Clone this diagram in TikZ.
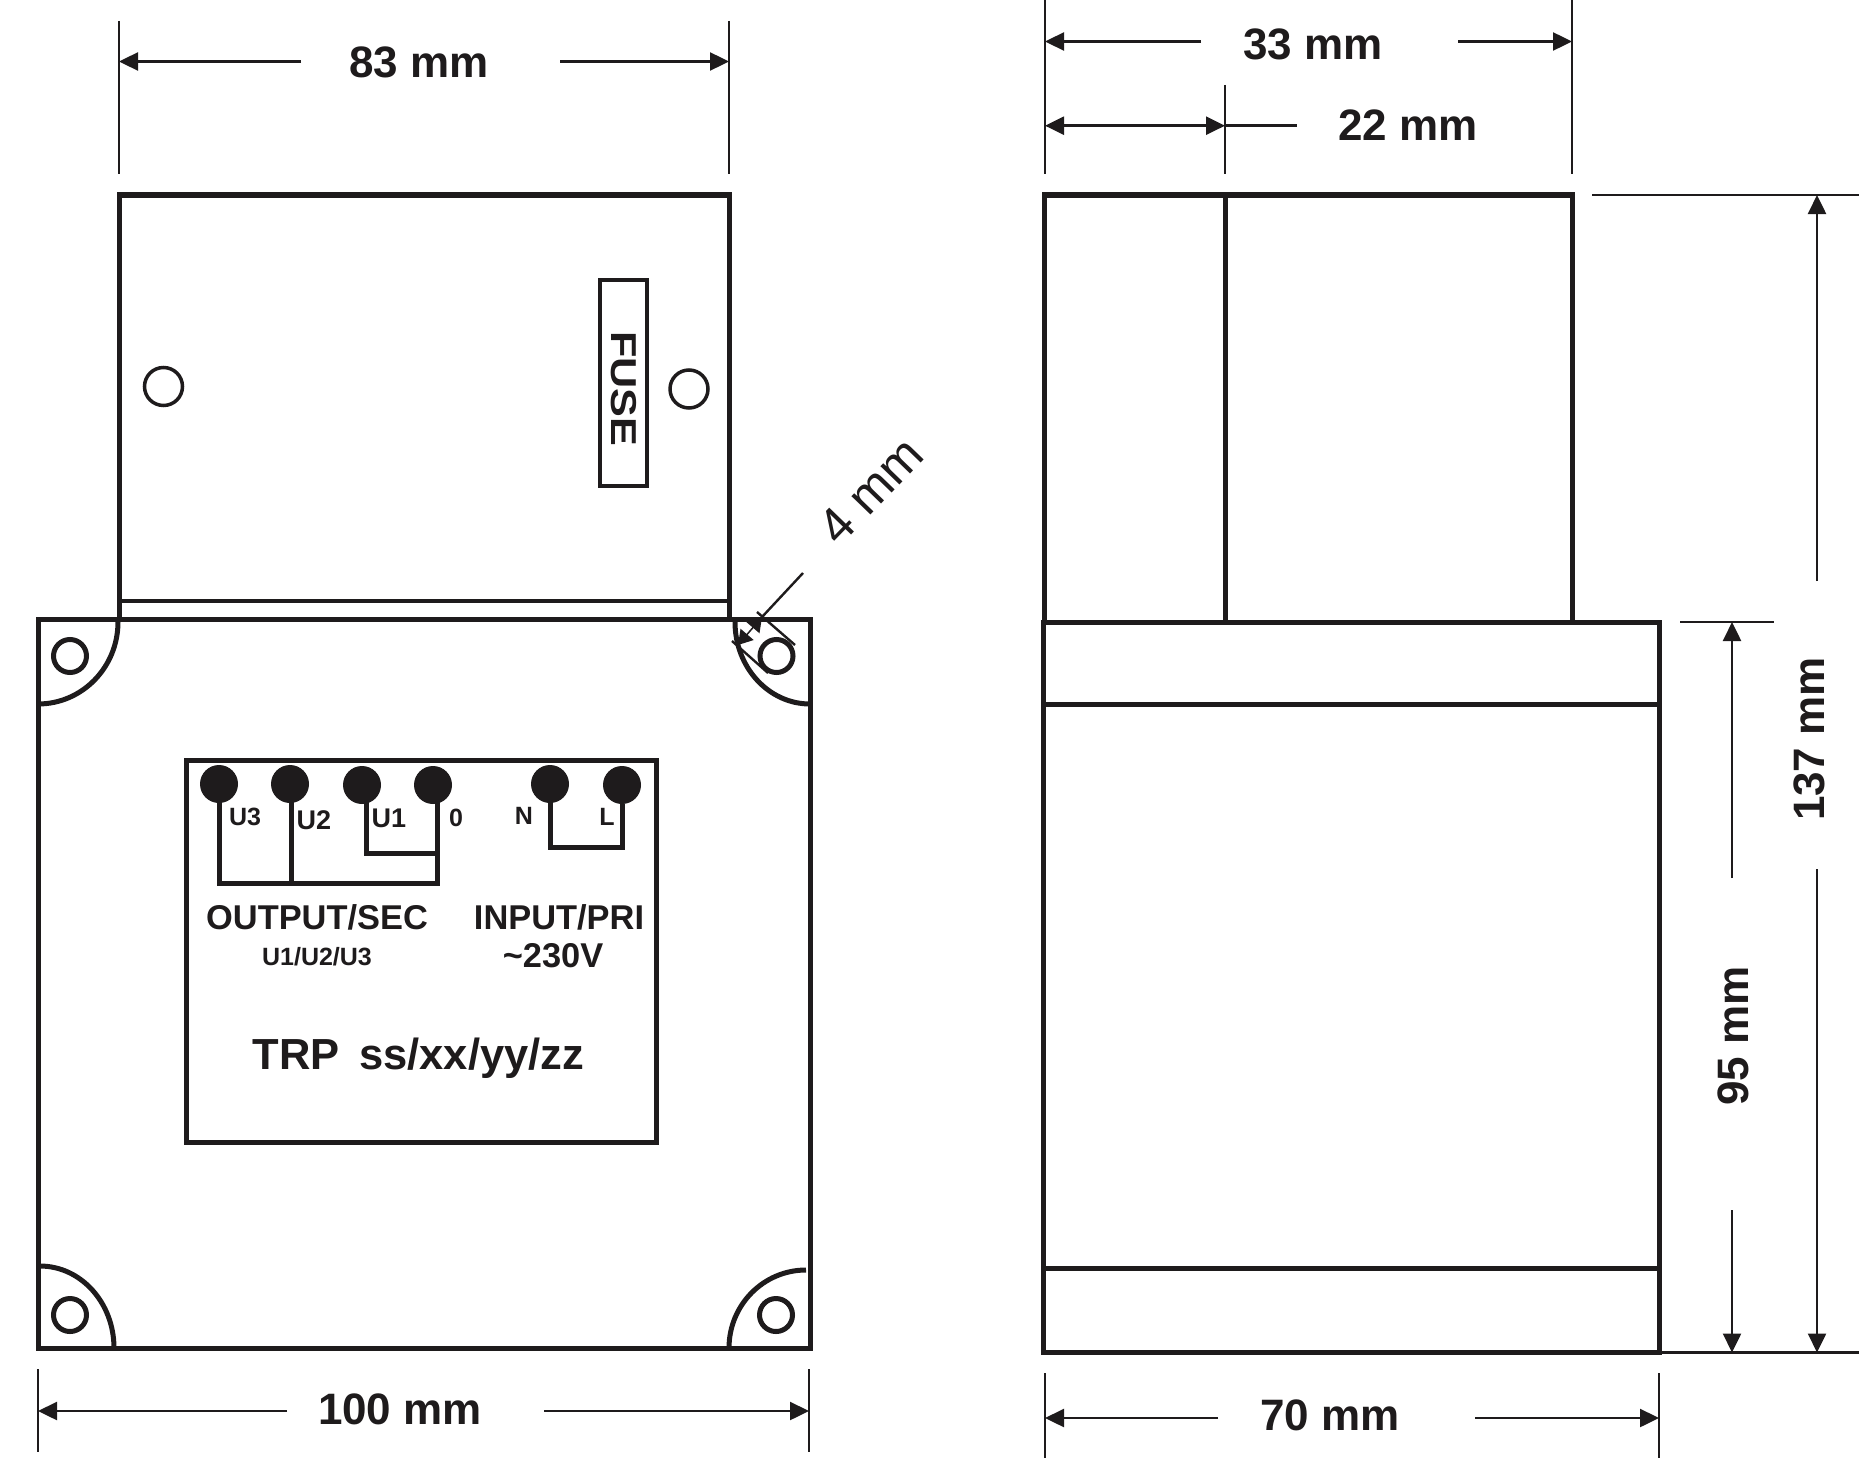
\documentclass[tikz,border=0pt]{standalone}
\usepackage{fontspec}
\setmainfont{Liberation Sans}
\usetikzlibrary{positioning,calc,arrows.meta}
\definecolor{ink}{HTML}{1E1B1C}
\tikzset{
    panel/.style={draw=ink, line width=5pt, inner sep=0pt, outer sep=0pt, anchor=north west},
    wire/.style={draw=ink, line width=5pt},
    hole/.style={circle, draw=ink, line width=5pt, inner sep=0pt, outer sep=0pt, minimum size=33pt},
    term/.style={circle, fill=ink, inner sep=0pt, outer sep=0pt, minimum size=38pt},
    witness/.style={draw=ink, line width=2.4pt},
    dimarrow/.style={draw=ink, line width=2.4pt, -{Triangle[length=19pt,width=18pt]}},
    dimtext/.style={text=ink, font=\bfseries\fontsize{44}{44}\selectfont, inner sep=0pt},
    termtext/.style={text=ink, font=\bfseries\fontsize{25}{25}\selectfont, inner sep=0pt},
    paneltext/.style={text=ink, font=\bfseries\fontsize{34.4}{34.4}\selectfont, inner sep=0pt}
}
\begin{document}
\begin{tikzpicture}[x=1pt,y=-1pt]
    \useasboundingbox (0,0) rectangle (1859,1458);

    \node[panel, minimum width=610pt, minimum height=424pt] (cover) at (119,195) {};
    \node[panel, minimum width=772pt, minimum height=729pt] (body) at (38,619) {};
    \draw[wire, line width=4pt] (119,601) -- (729,601);
    \node[panel, line width=3.5pt, minimum width=47pt, minimum height=206pt] (fuse) at (600,280) {};
    \node[text=ink, font=\bfseries\fontsize{36}{36}\selectfont, rotate=-90, inner sep=0pt] at ([yshift=-6pt]fuse.center) {\scalebox{1.2}[1]{FUSE}};
    \node[hole, line width=3.5pt, minimum size=38pt] (fixa) at (163.5,386.5) {};
    \node[hole, line width=3.5pt, minimum size=38pt] (fixb) at (689,389) {};

    \node[hole] (holea) at (70,656) {};
    \node[hole] (holeb) at (776.5,656) {};
    \node[hole] (holec) at (70,1315) {};
    \node[hole] (holed) at (776,1315) {};
    \draw[wire] (118,622) arc[start angle=0, end angle=-90, x radius=80pt, y radius=82pt];
    \draw[wire] (735,622) arc[start angle=180, end angle=270, x radius=75pt, y radius=82pt];
    \draw[wire] (114,1348) arc[start angle=0, end angle=90, x radius=74pt, y radius=82pt];
    \draw[wire] (729,1348) arc[start angle=180, end angle=90, x radius=77pt, y radius=78pt];

    \node[panel, minimum width=470pt, minimum height=382pt] (plate) at (186.5,760) {};
    \node[term] (u3) at (219,784) {};
    \node[term] (u2) at (290,784) {};
    \node[term] (u1) at (362,785) {};
    \node[term] (zero) at (433,785) {};
    \node[term] (n) at (550,784) {};
    \node[term] (l) at (622,785) {};
    \coordinate (busl) at (219.5,883);
    \coordinate (busr) at (437.5,883);
    \draw[wire] (u3.south) ++(0.5,-2) -- (busl) -- (busr) -- (437.5,785);
    \draw[wire] (291,784) -- (291,883);
    \draw[wire] (366,785) -- (366,853) -- (437.5,853);
    \draw[wire] (550,784) -- (550,847) -- (622,847) -- (l);

    \node[termtext] at (245,817) {U3};
    \node[termtext, font=\bfseries\fontsize{27}{27}\selectfont] at (314,820) {U2};
    \node[termtext, font=\bfseries\fontsize{27}{27}\selectfont] at (389,818) {U1};
    \node[termtext] at (456,818) {0};
    \node[termtext] at (524,816) {N};
    \node[termtext] at (607,817) {L};
    \node[paneltext] at (317,917) {OUTPUT/SEC};
    \node[paneltext] at (559,917) {INPUT/PRI};
    \node[paneltext, font=\bfseries\fontsize{25}{25}\selectfont] at (317,957) {U1/U2/U3};
    \node[paneltext] at (553,956) {\textasciitilde230V};
    \node[paneltext, font=\bfseries\fontsize{43.5}{43.5}\selectfont] at (418.5,1058) {TRP\, ss/xx/yy/zz};

    \node[dimtext] (dimwidth) at (419,62) {83 mm};
    \draw[witness] (119,21) -- (119,174);
    \draw[witness] (729,21) -- (729,174);
    \draw[dimarrow] (301,61.5) -- (119,61.5);
    \draw[dimarrow] (560,61.5) -- (729,61.5);

    \node[dimtext] (dimbody) at (400,1409) {100 mm};
    \draw[witness] (38,1369) -- (38,1452);
    \draw[witness] (809,1369) -- (809,1452);
    \draw[dimarrow] (287,1411) -- (38,1411);
    \draw[dimarrow] (544,1411) -- (809,1411);

    \node[panel, minimum width=528pt, minimum height=427pt] (upper) at (1044.5,195) {};
    \draw[wire] (1225,195) -- (1225,622);
    \node[panel, minimum width=616pt, minimum height=730pt] (lower) at (1043,622) {};
    \draw[wire] (1043,704) -- (1659,704);
    \draw[wire] (1043,1268) -- (1659,1268);

    \node[dimtext] (dimdepth) at (1313,44) {33 mm};
    \draw[witness] (1045,0) -- (1045,174);
    \draw[witness] (1572,0) -- (1572,174);
    \draw[dimarrow] (1201,41.5) -- (1045,41.5);
    \draw[dimarrow] (1458,41.5) -- (1572,41.5);

    \node[dimtext] (dimcover) at (1408,125) {22 mm};
    \draw[witness] (1225,85) -- (1225,174);
    \draw[dimarrow, {Triangle[length=19pt,width=18pt]}-{Triangle[length=19pt,width=18pt]}] (1045,125.7) -- (1225,125.7);
    \draw[witness] (1225,125.7) -- (1297,125.7);

    \node[dimtext] (dimbase) at (1330,1415) {70 mm};
    \draw[witness] (1045,1373) -- (1045,1458);
    \draw[witness] (1659,1373) -- (1659,1458);
    \draw[dimarrow] (1218,1418) -- (1045,1418);
    \draw[dimarrow] (1475,1418) -- (1659,1418);

    \draw[witness] (1592,195) -- (1859,195);
    \draw[witness] (1680,622) -- (1774,622);
    \draw[witness] (1660,1352.5) -- (1859,1352.5);

    \node[dimtext, rotate=90] (dimtotal) at (1809,739) {137 mm};
    \draw[dimarrow] (1817,581) -- (1817,195);
    \draw[dimarrow] (1817,869) -- (1817,1352.5);

    \node[dimtext, rotate=90] (dimheight) at (1733,1036) {95 mm};
    \draw[dimarrow] (1732,878) -- (1732,622);
    \draw[dimarrow] (1732,1210) -- (1732,1352.5);

    \draw[witness] (757,612) -- (795,645);
    \draw[witness] (732,641) -- (768,673);
    \draw[witness] (803,573) -- (762,617);
    \draw[dimarrow, line width=1.5pt, {Triangle[length=14pt,width=17pt]}-{Triangle[length=14pt,width=17pt]}] (762,617) -- (738,645);
    \node[text=ink, font=\fontsize{50}{50}\selectfont, rotate=46, inner sep=0pt] (dimwall) at (871,491) {4 mm};
\end{tikzpicture}
\end{document}
